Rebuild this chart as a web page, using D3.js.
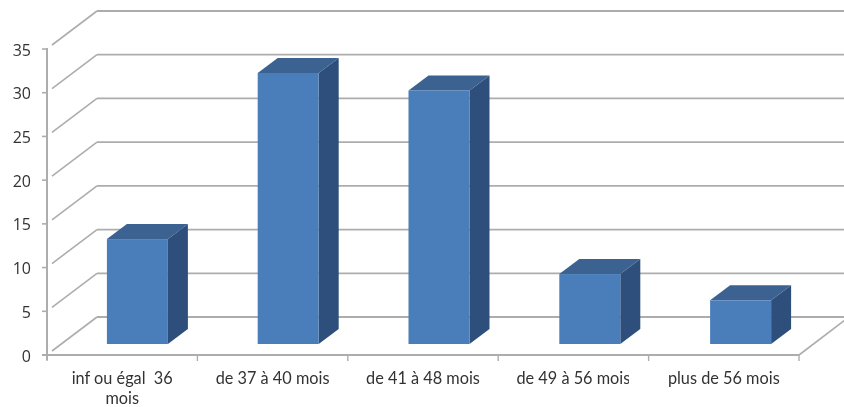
<!DOCTYPE html>
<html>
<head>
<meta charset="utf-8">
<script src="https://cdn.jsdelivr.net/npm/d3@7"></script>
<style>
html, body { margin: 0; padding: 0; background: #fff; overflow: hidden; }
svg { display: block; }
text { font-family: "Open Sans", sans-serif; fill: #333; }
</style>
</head>
<body>
<div id="chart"></div>
<script>
'use strict'

const categories = [['inf ou égal  36', 'mois'], ['de 37 à 40 mois'], ['de 41 à 48 mois'], ['de 49 à 56 mois'], ['plus de 56 mois']]
const values = [12, 31, 29, 8, 5]
const yTicks = [0, 5, 10, 15, 20, 25, 30, 35]

const width = 844
const height = 407

const svg = d3.select('#chart').append('svg')
	.attr('width', width)
	.attr('height', height)

const defs = svg.append('defs')
const blur = defs.append('filter').attr('id', 'soft')
blur.append('feGaussianBlur').attr('stdDeviation', 0.5)

// the last letter of the fourth label is cut in the original
defs.append('clipPath').attr('id', 'label-clip')
	.append('rect').attr('x', 500).attr('y', 360).attr('width', 129).attr('height', 40)

const root = svg.append('g').attr('filter', 'url(#soft)')

const yScale = d3.scaleLinear().domain([0, 35]).range([355, 49])
const xScale = d3.scaleBand().domain(d3.range(categories.length)).range([47, 799])
// bars sit a little wider apart than the ticks in the original
const barScale = d3.scaleBand().domain(d3.range(categories.length)).range([47, 801])

// 3d offsets: depth of the floor and depth of one bar
const depthX = 50
const depthY = 38
const barOffsetX = 15
const barOffsetY = 11
const barDepthX = 20
const barDepthY = 15
const barWidth = 61

const gridColor = '#adadad'

// back wall lines and left wall diagonals
yTicks.forEach(t => {
	const y = yScale(t)
	root.append('line')
		.attr('x1', 47 + depthX).attr('x2', width + 4)
		.attr('y1', y - depthY).attr('y2', y - depthY)
		.attr('stroke', gridColor).attr('stroke-width', 1.8)
	root.append('line')
		.attr('x1', 52).attr('x2', 47 + depthX)
		.attr('y1', y - 4).attr('y2', y - depthY)
		.attr('stroke', gridColor).attr('stroke-width', 1.6)
})

// floor right edge
root.append('line')
	.attr('x1', 799).attr('x2', 799 + depthX)
	.attr('y1', yScale(0)).attr('y2', yScale(0) - depthY)
	.attr('stroke', gridColor).attr('stroke-width', 1.6)

// axes
root.append('line')
	.attr('x1', 47).attr('x2', 47)
	.attr('y1', yScale(35) - 1).attr('y2', yScale(0) + 5)
	.attr('stroke', gridColor).attr('stroke-width', 2)
root.append('line')
	.attr('x1', 42).attr('x2', 799)
	.attr('y1', yScale(0)).attr('y2', yScale(0))
	.attr('stroke', gridColor).attr('stroke-width', 2)

yTicks.forEach(t => {
	root.append('line')
		.attr('x1', 42).attr('x2', 47)
		.attr('y1', yScale(t)).attr('y2', yScale(t))
		.attr('stroke', gridColor).attr('stroke-width', 1.6)
	root.append('text')
		.attr('x', 31)
		.attr('y', yScale(t) + 1)
		.attr('dy', '.35em')
		.attr('text-anchor', 'end')
		.style('font-size', '16px')
		.text(t)
})

d3.range(categories.length + 1).forEach(i => {
	const x = 47 + i * xScale.bandwidth()
	root.append('line')
		.attr('x1', x).attr('x2', x)
		.attr('y1', yScale(0)).attr('y2', yScale(0) + 6)
		.attr('stroke', gridColor).attr('stroke-width', 1.4)
})

// bars
const bar = root.selectAll('.bar')
	.data(values)
	.enter().append('g')
	.attr('class', 'bar')

const barLeft = (d, i) => barScale(i) + barScale.bandwidth() / 2 - barWidth / 2 + barOffsetX
const barBase = yScale(0) - barOffsetY
const barTop = d => barBase - (yScale(0) - yScale(d))

// top face
bar.append('path')
	.attr('fill', '#3a6291')
	.attr('d', (d, i) => {
		const x = barLeft(d, i), y = barTop(d)
		return 'M' + x + ',' + y + 'L' + (x + barDepthX) + ',' + (y - barDepthY) +
			'L' + (x + barWidth + barDepthX) + ',' + (y - barDepthY) + 'L' + (x + barWidth) + ',' + y + 'Z'
	})

// side face
bar.append('path')
	.attr('fill', '#2f507b')
	.attr('d', (d, i) => {
		const x = barLeft(d, i) + barWidth, y = barTop(d)
		return 'M' + x + ',' + y + 'L' + (x + barDepthX) + ',' + (y - barDepthY) +
			'L' + (x + barDepthX) + ',' + (barBase - barDepthY) + 'L' + x + ',' + barBase + 'Z'
	})

// front face
bar.append('rect')
	.attr('fill', '#4a7ebb')
	.attr('x', barLeft)
	.attr('y', barTop)
	.attr('width', barWidth)
	.attr('height', d => barBase - barTop(d))

// category labels
categories.forEach((lines, i) => {
	const label = root.append('text')
		.attr('text-anchor', 'middle')
		.style('font-family', 'Lato, sans-serif')
		.style('font-size', '16.3px')
	if (i === 3) label.attr('clip-path', 'url(#label-clip)')
	lines.forEach((line, j) => {
		label.append('tspan')
			.attr('x', xScale(i) + xScale.bandwidth() / 2)
			.attr('y', 384 + j * 20)
			.style('white-space', 'pre')
			.text(line)
	})
})
</script>
</body>
</html>
